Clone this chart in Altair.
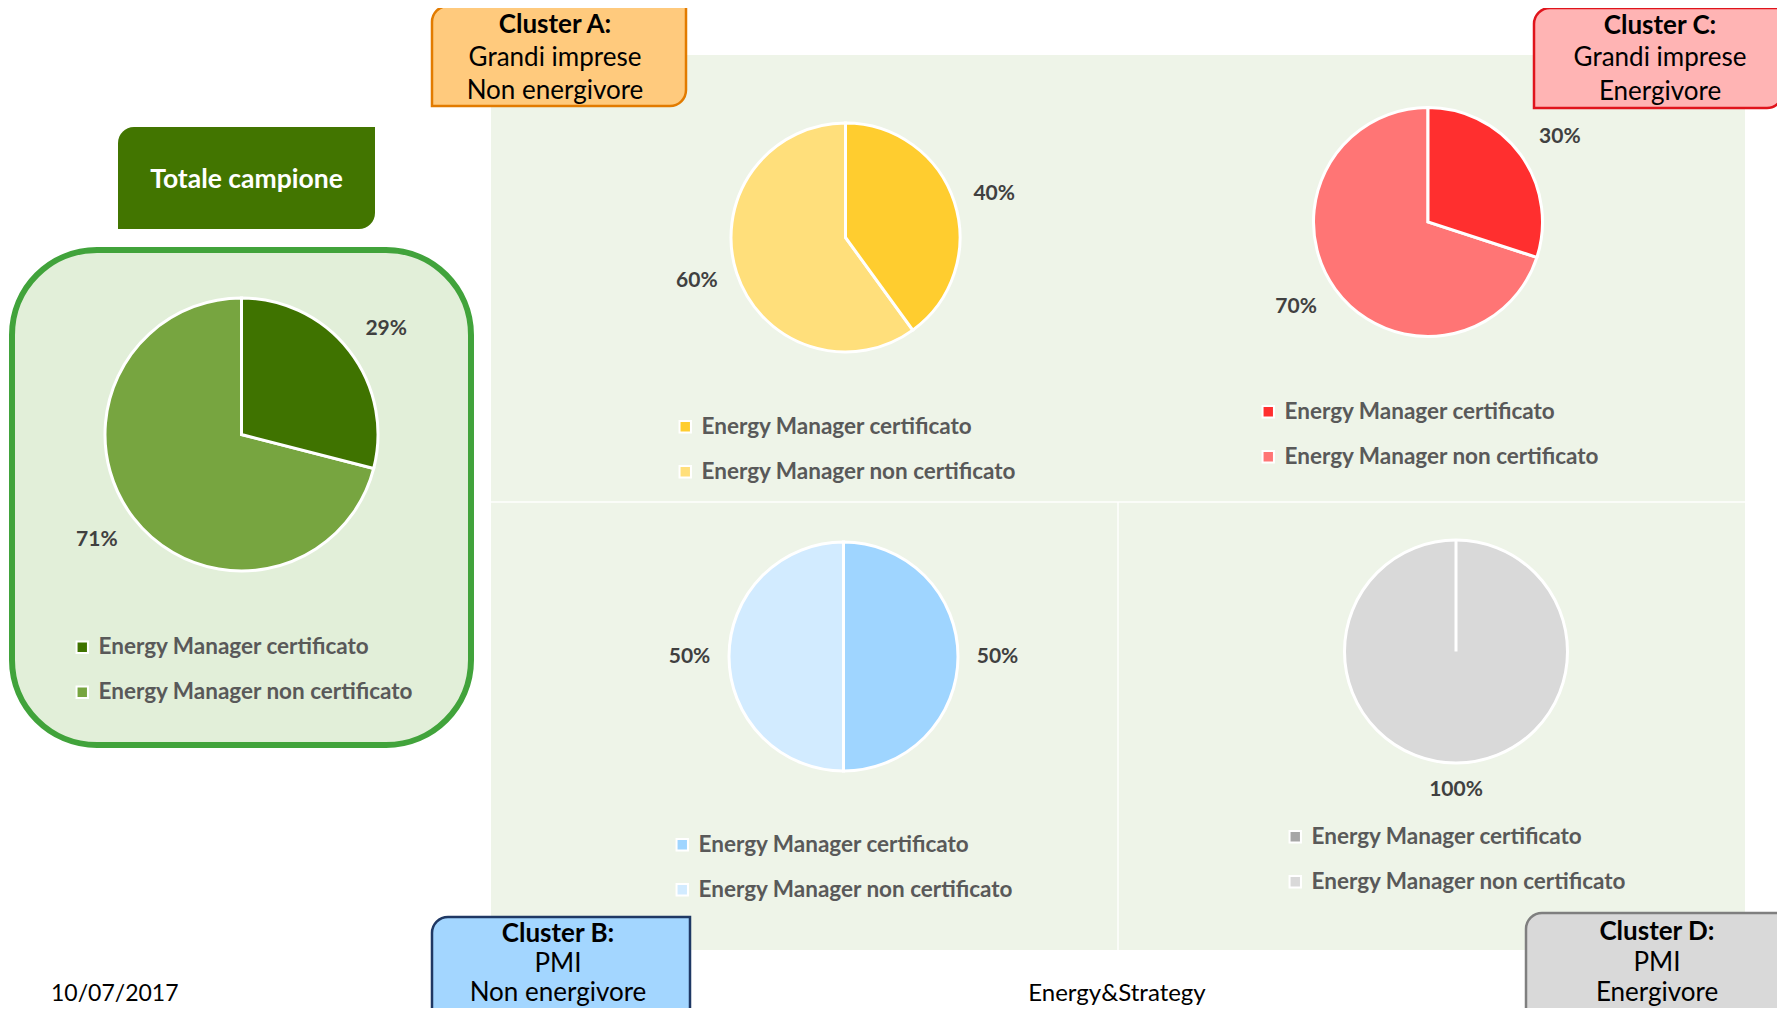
import altair as alt
import pandas as pd

# ------------------------------------------------------------------ data
categorie = ["Energy Manager certificato", "Energy Manager non certificato"]
pannelli = ["Totale campione", "Cluster A", "Cluster B", "Cluster C", "Cluster D"]
certificato = [29, 40, 50, 30, 0]
non_certificato = [71, 60, 50, 70, 100]

titolo_totale = "Totale campione"
righe_cluster_a = ["Cluster A:", "Grandi imprese", "Non energivore"]
righe_cluster_b = ["Cluster B:", "PMI", "Non energivore"]
righe_cluster_c = ["Cluster C:", "Grandi imprese", "Energivore"]
righe_cluster_d = ["Cluster D:", "PMI", "Energivore"]
data_testo = ["10/07/2017"]
fonte_testo = ["Energy&Strategy"]

# ------------------------------------------------------------------ layout / style
OFF = 8  # page margin


def P(v):
    return v - OFF


FONT = "Lato"
W, H = 1769, 1000

pie_style = {
    "Totale campione": dict(cx=241.5, cy=434.5, r=136.5, lr=179, to=0.03, lx=71, ly=636,
                            colors=["#3f7300", "#77a540"]),
    "Cluster A": dict(cx=845.5, cy=237.5, r=114.5, lr=155, to=0.028, lx=674, ly=415.5,
                      colors=["#ffcd2f", "#ffdf7b"]),
    "Cluster B": dict(cx=843.5, cy=656.5, r=114.5, lr=154, to=0.0, lx=671, ly=833.5,
                      colors=["#9fd5ff", "#d2ebff"]),
    "Cluster C": dict(cx=1428, cy=222, r=114.5, lr=157, to=0.055, lx=1257, ly=400.5,
                      colors=["#ff2f2f", "#ff7575"]),
    "Cluster D": dict(cx=1456, cy=651.5, r=111.5, lr=138, to=0.0, lx=1284, ly=825.5,
                      colors=["#a6a6a6", "#d9d9d9"]),
}

dummy = pd.DataFrame({"k": [1]})


def box(x1, y1, x2, y2, fill, stroke=None, sw=0, rtl=0, rbr=0, rtr=0, rbl=0):
    kw = dict(fill=fill, cornerRadiusTopLeft=rtl, cornerRadiusBottomRight=rbr,
              cornerRadiusTopRight=rtr, cornerRadiusBottomLeft=rbl)
    if stroke:
        kw.update(stroke=stroke, strokeWidth=sw)
    return alt.Chart(dummy).mark_rect(**kw).encode(
        x=alt.value(P(x1)), x2=alt.value(P(x2)), y=alt.value(P(y1)), y2=alt.value(P(y2))
    )


def label(text, x, y, size, color="black", bold=False, align="center"):
    return alt.Chart(pd.DataFrame({"testo": [text]})).mark_text(
        font=FONT, fontSize=size, color=color, fontWeight="bold" if bold else "normal",
        align=align, baseline="middle"
    ).encode(text="testo:N", x=alt.value(P(x)), y=alt.value(P(y)))


layers = []

# background of the cluster area
layers.append(box(491, 55, 1745, 950, "#eef4e8"))
layers.append(alt.Chart(dummy).mark_rule(color="white", strokeWidth=1.5, opacity=0.9).encode(
    x=alt.value(P(491)), x2=alt.value(P(1745)), y=alt.value(P(502))))
layers.append(alt.Chart(dummy).mark_rule(color="white", strokeWidth=1.5, opacity=0.9).encode(
    x=alt.value(P(1118)), y=alt.value(P(502)), y2=alt.value(P(950))))

# totale panel
layers.append(box(12, 250, 471, 745, "#e2efd9", "#41a33b", 6, 85, 85, 85, 85))
layers.append(box(118, 127, 375, 229, "#427500", rtl=16, rbr=16))
layers.append(label(titolo_totale, 246.5, 180, 26.5, color="white", bold=True))

# cluster boxes
cluster_boxes = [
    (righe_cluster_a, (432, 6, 686, 106), "#ffca7d", "#e27b00", 555, [25, 58, 91]),
    (righe_cluster_c, (1534, 8, 1783, 108), "#ffb4b4", "#e0141c", 1660, [26, 58, 92]),
    (righe_cluster_b, (432, 917, 690, 1040), "#a3d6ff", "#1f3864", 558, [934, 964, 993]),
    (righe_cluster_d, (1526, 913, 1783, 1040), "#d9d9d9", "#7f7f7f", 1657, [932, 963, 993]),
]
for righe, (x1, y1, x2, y2), fill, stroke, tx, ys in cluster_boxes:
    layers.append(box(x1, y1, x2, y2, fill, stroke, 2.5, rtl=16, rbr=16))
    for i, (riga, yy) in enumerate(zip(righe, ys)):
        layers.append(label(riga, tx, yy, 26, bold=(i == 0)))

# footer
layers.append(label(data_testo[0], 51, 994, 23, align="left"))
layers.append(label(fonte_testo[0], 1117, 994, 24))

# pies
for i, nome in enumerate(pannelli):
    st = pie_style[nome]
    # rows listed non-certificato first so the certificato slice (and its
    # separator stroke) is drawn on top; stacking order still comes from "ordine"
    df = pd.DataFrame({
        "categoria": categorie[::-1],
        "valore": [non_certificato[i], certificato[i]],
        "ordine": [1, 0],
    })
    df["etichetta"] = df["valore"].astype(str) + "%"
    theta = alt.Theta("valore:Q", stack=True, scale=alt.Scale(domain=[0, 100]))
    arc = alt.Chart(df).mark_arc(outerRadius=st["r"], stroke="white", strokeWidth=3).encode(
        theta=theta,
        order=alt.Order("ordine:Q"),
        color=alt.Color(
            "categoria:N",
            scale=alt.Scale(domain=categorie, range=st["colors"]),
            legend=alt.Legend(
                orient="none", legendX=st["lx"] - OFF,
                legendY=st["ly"] - OFF, title=None, direction="vertical",
                symbolType="square", symbolSize=130, symbolStrokeColor="white",
                symbolStrokeWidth=2, labelFont=FONT, labelFontWeight="bold",
                labelFontSize=22.5, labelColor="#595959", rowPadding=22,
                labelOffset=5, padding=0, labelLimit=600,
            ),
        ),
        x=alt.value(P(st["cx"])),
        y=alt.value(P(st["cy"])),
    )
    txt_kw = dict(radius=st["lr"], font=FONT, fontSize=21, fontWeight="bold", color="#404040")
    if st["to"]:
        txt_kw["thetaOffset"] = st["to"]
    txt = alt.Chart(df[df["valore"] > 0]).mark_text(**txt_kw).encode(
        theta=theta,
        order=alt.Order("ordine:Q"),
        text="etichetta:N",
        x=alt.value(P(st["cx"])),
        y=alt.value(P(st["cy"])),
    )
    layers.append(arc)
    layers.append(txt)

chart = alt.layer(*layers).resolve_scale(color="independent").properties(
    width=W, height=H, padding=0, background="white",
    autosize=alt.AutoSizeParams(type="none"),
).configure_view(stroke=None)

chart.save("out.html", embed_options={"renderer": "svg", "actions": False})
